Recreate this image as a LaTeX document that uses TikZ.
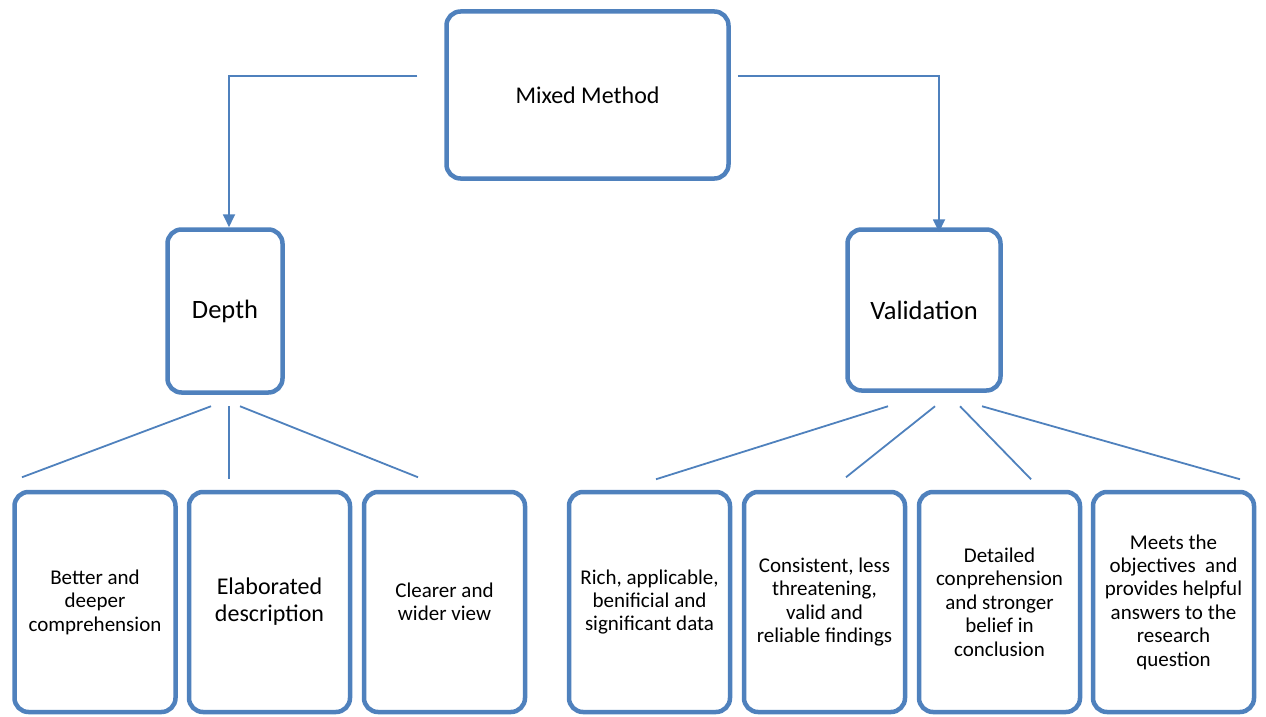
\documentclass[tikz,border=0pt]{standalone}
\usepackage{fontspec}
\setmainfont{Carlito}
\usetikzlibrary{arrows.meta,positioning,calc}
\definecolor{boxblue}{HTML}{4F81BD}

\begin{document}
\begin{tikzpicture}[x=1pt,y=-1pt,
    box/.style={draw=boxblue,line width=4.5pt,rounded corners=14pt,fill=white,inner sep=2pt,align=center,font=\fontsize{21}{23.4}\selectfont},
    arrow/.style={draw=boxblue,line width=1.8pt,-{Triangle[length=13pt,width=12pt]}},
    link/.style={draw=boxblue,line width=1.8pt}]
    \useasboundingbox (0,0) rectangle (1266,717);
    % top and middle level
    \node[box,minimum width=282pt,minimum height=167pt,font=\fontsize{24}{28}\selectfont] (mixed) at (587.5,95) {Mixed Method};
    \node[box,minimum width=115pt,minimum height=163pt,font=\fontsize{26.5}{30}\selectfont] (depth) at (225,311) {Depth};
    \node[box,minimum width=153pt,minimum height=161pt,font=\fontsize{26.5}{30}\selectfont] (valid) at (924,310) {Validation};
    % bottom level
    \node[box,minimum width=161pt,minimum height=220pt] (b1) at (95,602) {Better and\\deeper\\comprehension};
    \node[box,minimum width=161pt,minimum height=220pt,font=\fontsize{24}{27}\selectfont] (b2) at (269.5,602) {Elaborated\\description};
    \node[box,minimum width=161pt,minimum height=220pt] (b3) at (444.5,602) {Clearer and\\wider view};
    \node[box,minimum width=161pt,minimum height=220pt] (b4) at (649.5,602) {Rich, applicable,\\benificial and\\significant data};
    \node[box,minimum width=161pt,minimum height=220pt] (b5) at (824.5,602) {Consistent, less\\threatening,\\valid and\\reliable findings};
    \node[box,minimum width=161pt,minimum height=220pt] (b6) at (999.5,602) {Detailed\\conprehension\\and stronger\\belief in\\conclusion};
    \node[box,minimum width=161pt,minimum height=220pt] (b7) at (1173.5,602) {Meets the\\objectives\ \ and\\provides helpful\\answers to the\\research\\question};
    % arrows from the top box
    \draw[arrow] ($(mixed.west)+(-27,-19)$) -| ($(depth.north)+(4,0)$);
    \draw[arrow] ($(mixed.east)+(7,-19)$) -| ($(valid.north)+(15,5)$);
    % links to the bottom boxes
    \foreach \s/\e/\u/\v in {-14/b1/-73/-12.5, 4/b2/-40.5/-10.5, 15/b3/-26.5/-12.5} {
        \draw[link] ($(depth.south)+(\s,11.5)$) -- ($(\e.north)+(\u,\v)$);
    }
    \foreach \s/\e/\u/\v in {-36/b4/6.5/-10.5, 11/b5/21.5/-12.5, 36/b6/31.5/-10.5, 58/b7/66.5/-10.5} {
        \draw[link] ($(valid.south)+(\s,13.5)$) -- ($(\e.north)+(\u,\v)$);
    }
\end{tikzpicture}
\end{document}
